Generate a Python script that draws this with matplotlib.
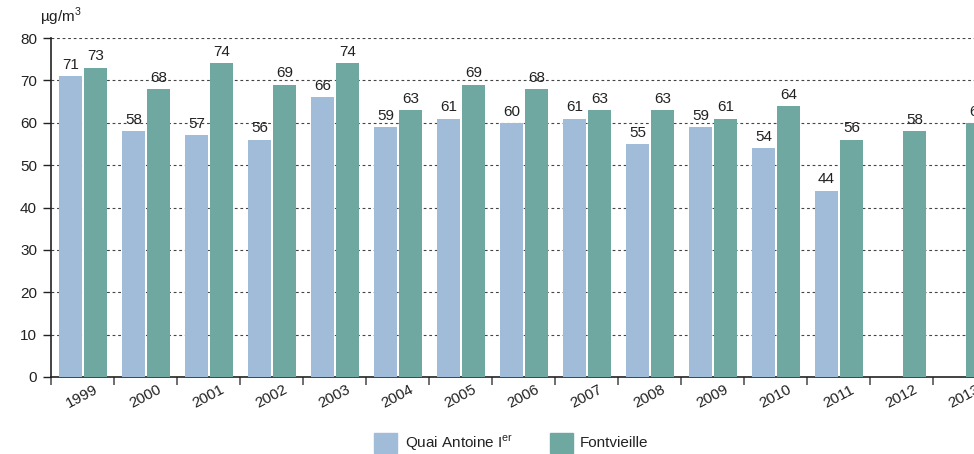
import matplotlib
matplotlib.use("Agg")
import matplotlib.pyplot as plt
import numpy as np
from matplotlib.patches import Rectangle

plt.rcParams['font.family'] = ['Liberation Sans', 'DejaVu Sans']
plt.rcParams['mathtext.fontset'] = 'custom'
plt.rcParams['mathtext.rm'] = 'Liberation Sans'

years = ['1999', '2000', '2001', '2002', '2003', '2004', '2005', '2006',
         '2007', '2008', '2009', '2010', '2011', '2012', '2013']
quai = [71, 58, 57, 56, 66, 59, 61, 60, 61, 55, 59, 54, 44, None, None]
fontvieille = [73, 68, 74, 69, 74, 63, 69, 68, 63, 63, 61, 64, 56, 58, 60]
yticks = [0, 10, 20, 30, 40, 50, 60, 70, 80]

c_quai = '#a0bcd8'
c_font = '#6fa8a1'
fs = 11

fig = plt.figure(figsize=(9.74, 4.54), dpi=100)
W, H = 974, 454
x0, x1 = 51, 51 + 15 * 63
y0, y1 = 377, 38
ax = fig.add_axes([x0 / W, 1 - y0 / H, (x1 - x0) / W, (y0 - y1) / H])

n = len(years)
xs = np.arange(n)
bw = 0.365
for i in range(n):
    if quai[i] is not None:
        ax.bar(xs[i] + 0.31, quai[i], width=bw, color=c_quai, zorder=3)
        ax.text(xs[i] + 0.31, quai[i] + 1.0, str(quai[i]), ha='center', va='bottom',
                fontsize=fs, color='#222222', zorder=4)
    if fontvieille[i] is not None:
        ax.bar(xs[i] + 0.706, fontvieille[i], width=bw, color=c_font, zorder=3)
        ax.text(xs[i] + 0.706, fontvieille[i] + 1.0, str(fontvieille[i]), ha='center',
                va='bottom', fontsize=fs, color='#222222', zorder=4)

ax.set_xlim(0, n)
ax.set_ylim(0, 80)
ax.set_yticks(yticks)
ax.set_yticklabels([str(v) for v in yticks], fontsize=fs, color='#222222')
for v in yticks[1:]:
    ax.axhline(v, color='#444444', linestyle=(0, (2.5, 2.5)), linewidth=0.8, zorder=1)

ax.set_xticks(np.arange(0, n + 1))
ax.set_xticklabels([])
ax.set_xticks(xs + 0.5, minor=True)
ax.set_xticklabels(years, minor=True, rotation=28, ha='center', fontsize=fs,
                   color='#222222')
ax.tick_params(axis='x', which='major', direction='out', length=6, width=1.2,
               color='#555555')
ax.tick_params(axis='x', which='minor', length=0, pad=4)
ax.tick_params(axis='y', direction='out', length=6, width=1, color='#222222', pad=4)

for s in ['top', 'right']:
    ax.spines[s].set_visible(False)
ax.spines['left'].set_color('#222222')
ax.spines['bottom'].set_color('#222222')
ax.spines['left'].set_linewidth(1.2)
ax.spines['bottom'].set_linewidth(1.2)

fig.text(40 / W, 1 - 17 / H, 'µg/m$^{3}$', fontsize=fs, color='#222222', va='center', ha='left')

# legend
fig.patches.append(Rectangle((374 / W, 1 - 453 / H), 23 / W, 20 / H, color=c_quai,
                             transform=fig.transFigure, figure=fig))
fig.text(405 / W, 1 - 443 / H, 'Quai Antoine I$^{\\mathregular{er}}$', fontsize=fs,
         color='#222222', va='center', ha='left')
fig.patches.append(Rectangle((550 / W, 1 - 453 / H), 23 / W, 20 / H, color=c_font,
                             transform=fig.transFigure, figure=fig))
fig.text(580 / W, 1 - 443 / H, 'Fontvieille', fontsize=fs,
         color='#222222', va='center', ha='left')

fig.savefig('out.png', dpi=100)
